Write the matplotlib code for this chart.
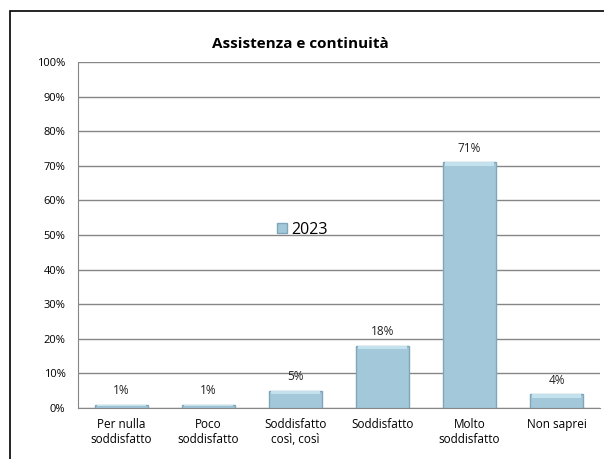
import matplotlib.pyplot as plt
import matplotlib.patches as mpatches
import numpy as np

# dati
categorie = ["Per nulla\nsoddisfatto", "Poco\nsoddisfatto", "Soddisfatto\ncosì, così",
             "Soddisfatto", "Molto\nsoddisfatto", "Non saprei"]
valori = [1, 1, 5, 18, 71, 4]
etichette = ["1%", "1%", "5%", "18%", "71%", "4%"]
serie = "2023"
titolo = "Assistenza e continuità"

plt.rcParams['font.family'] = ['Open Sans', 'DejaVu Sans']

fig = plt.figure(figsize=(6.04, 4.59), dpi=100)

# cornice esterna
fig.patches.append(mpatches.Rectangle((10/604, -0.05), 1.1, 1 - 11/459 + 0.05,
                                      transform=fig.transFigure, fill=False,
                                      edgecolor="black", linewidth=1.2))

ax = fig.add_axes([78/604, 1 - 408/459, 522/604, 346/459])

x = np.arange(len(valori))
ax.bar(x, valori, width=0.6, color="#a3c8da", edgecolor="#7fa6b9", linewidth=1.0,
       label=serie, zorder=3)
# bordo superiore chiaro (effetto rilievo)
ax.bar(x, [min(1.0, v * 0.5) for v in valori], bottom=[v - min(1.0, v * 0.5) for v in valori],
       width=0.56, color="#c4e2ee", linewidth=0, zorder=4)

for xi, v, t in zip(x, valori, etichette):
    ax.text(xi, v + 2.2, t, ha="center", va="bottom", fontsize=8.5, color="#222222")

ax.set_xlim(-0.5, len(valori) - 0.5)
ax.set_ylim(0, 100)
ax.set_yticks(range(0, 101, 10))
ax.set_yticklabels([f"{v}%" for v in range(0, 101, 10)], fontsize=8)
ax.set_xticks(x)
ax.set_xticklabels(categorie, fontsize=8.5)
ax.tick_params(axis="both", length=0, pad=9)
ax.tick_params(axis="x", pad=7)

ax.grid(axis="y", color="#868686", linewidth=1.0, zorder=0)
for s in ["top", "right"]:
    ax.spines[s].set_visible(False)
ax.spines["left"].set_color("#868686")
ax.spines["bottom"].set_color("#868686")

fig.text(300/604, 1 - 44/459, titolo, ha="center", va="center",
         fontsize=11, fontweight="bold")

ax.legend(loc="center", bbox_to_anchor=(0.43, 0.515), frameon=False, fontsize=11.5,
          handlelength=0.6, handleheight=0.6, handletextpad=0.3)

fig.savefig("out.png", dpi=100)
